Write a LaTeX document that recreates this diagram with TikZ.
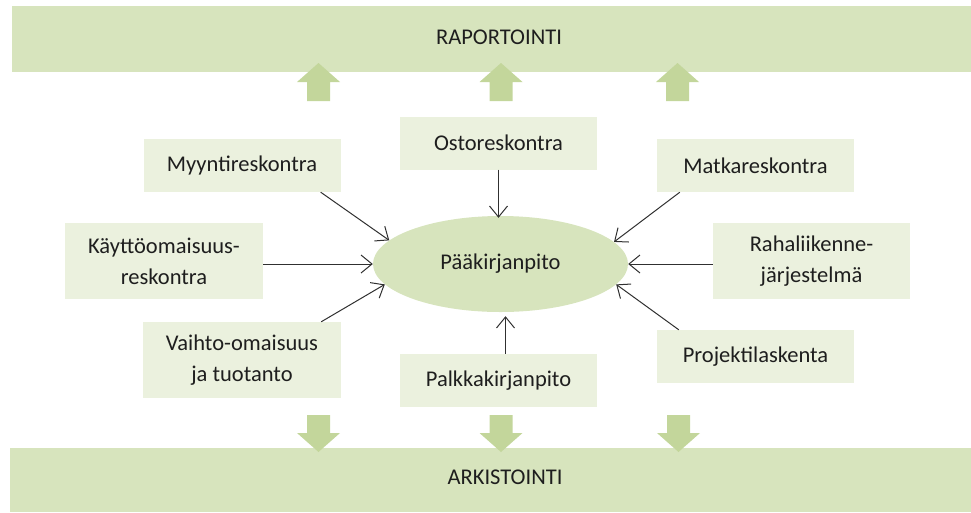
\documentclass[tikz,border=0pt]{standalone}
\usepackage{fontspec}
\setmainfont{Carlito}
\usetikzlibrary{arrows.meta,shapes.geometric}
\definecolor{barfill}{HTML}{D7E4BD}
\definecolor{boxfill}{HTML}{EBF1DE}
\definecolor{blockfill}{HTML}{C3D69B}
\definecolor{txt}{HTML}{1E1E1E}
\definecolor{linec}{HTML}{303030}
\tikzset{
  bar/.style={fill=barfill, draw=none},
  srcbox/.style={fill=boxfill, draw=none, minimum width=197pt, minimum height=53pt,
     align=center, inner sep=0pt, text=txt, font=\fontsize{22.5}{31}\selectfont},
  tallbox/.style={srcbox, minimum height=76pt},
  mainell/.style={ellipse, fill=barfill, draw=none, minimum width=255pt, minimum height=96pt,
     inner sep=0pt, text=txt, font=\fontsize{22.5}{31}\selectfont},
  bartext/.style={text=txt, font=\fontsize{22.5}{31}\selectfont, inner sep=0pt},
  conn/.style={draw=linec, line width=1pt, -{Straight Barb[length=11pt,width=18pt,line width=1pt]}},
  block/.style={fill=blockfill, draw=none}
}
\begin{document}
\begin{tikzpicture}[x=1pt,y=-1pt]
\useasboundingbox (0,0) rectangle (971,512);
% bars
\fill[bar] (12,6) rectangle (971,72);
\fill[bar] (10,448) rectangle (971,512);
\node[bartext] (rap) at (499,37) {RAPORTOINTI};
\node[bartext] (ark) at (505,477) {ARKISTOINTI};
% block arrows up
\foreach \cx/\nm in {318.5/u1,501/u2,677.5/u3}{
  \fill[block] (\cx-11.5,101) -- (\cx-11.5,82) -- (\cx-21.5,82) -- (\cx,63) -- (\cx+21.5,82) -- (\cx+11.5,82) -- (\cx+11.5,101) -- cycle;
}
% block arrows down
\foreach \cx/\nm in {318.5/d1,501/d2,678.5/d3}{
  \fill[block] (\cx-11.5,415) -- (\cx-11.5,433) -- (\cx-21.5,433) -- (\cx,452) -- (\cx+21.5,433) -- (\cx+11.5,433) -- (\cx+11.5,415) -- cycle;
}
% source boxes
\node[srcbox] (ost) at (498.5,143) {Ostoreskontra};
\node[srcbox] (myy) at (242,165.5) {Myyntireskontra};
\node[srcbox] (mat) at (755.5,165.5) {Matkareskontra};
\node[tallbox, minimum width=198pt] (kay) at (164,261) {Käyttöomaisuus-\\reskontra};
\node[tallbox] (rah) at (811.5,261) {Rahaliikenne-\\järjestelmä};
\node[tallbox, minimum width=198pt] (vai) at (242,360) {Vaihto-omaisuus\\ja tuotanto};
\node[srcbox] (pal) at (498.5,380.5) {Palkkakirjanpito};
\node[srcbox] (pro) at (755.5,356.5) {Projektilaskenta};
% main ellipse
\node[mainell] (pk) at (500.5,264) {Pääkirjanpito};
% connectors
\draw[conn] ([xshift=-20pt]myy.south east) -- (pk.168);
\draw[conn] (ost.south) -- ([yshift=-2pt]pk.north -| ost.south);
\draw[conn] ([xshift=23pt]mat.south west) -- (pk.11);
\draw[conn] ([yshift=-3pt]kay.east) -- (pk.west);
\draw[conn] ([yshift=-3pt]rah.west) -- (pk.east);
\draw[conn] ([xshift=-20pt]vai.north east) -- (pk.190);
\draw[conn] ([xshift=7pt]pal.north) -- ([xshift=7pt,yshift=-4pt]pal.north |- pk.south);
\draw[conn] ([xshift=22pt]pro.north west) -- (pk.350);
\end{tikzpicture}
\end{document}
